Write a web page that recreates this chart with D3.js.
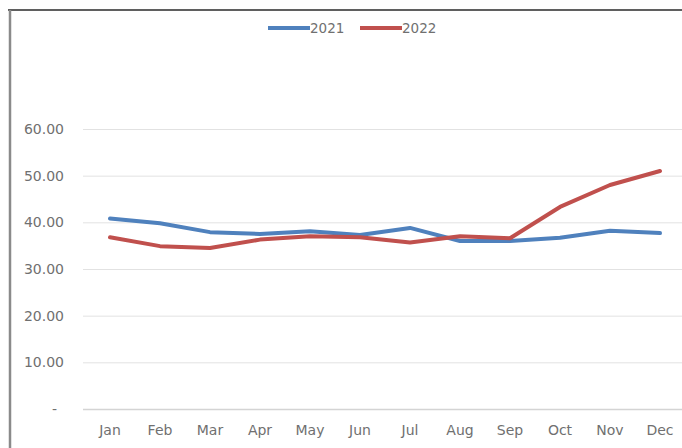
<!DOCTYPE html>
<html>
<head>
<meta charset="utf-8">
<script src="https://cdn.jsdelivr.net/npm/d3@7"></script>
<style>
  html, body { margin: 0; padding: 0; background: #fff; }
  svg { display: block; }
  text { font-family: "DejaVu Sans", sans-serif; fill: #707070; }
</style>
</head>
<body>
<svg id="chart" width="682" height="448"></svg>
<script>
// Monthly values for the two years
const months = ["Jan", "Feb", "Mar", "Apr", "May", "Jun", "Jul", "Aug", "Sep", "Oct", "Nov", "Dec"];
const series2021 = [40.8, 39.8, 37.9, 37.5, 38.1, 37.3, 38.8, 36.0, 36.0, 36.7, 38.2, 37.7];
const series2022 = [36.8, 34.9, 34.5, 36.3, 37.0, 36.8, 35.7, 37.0, 36.6, 43.3, 48.0, 51.0];
const yTicks = [0, 10, 20, 30, 40, 50, 60];
const seriesNames = ["2021", "2022"];
const seriesColors = ["#4f81bd", "#c0504d"];

const svg = d3.select("#chart");
const W = 682, H = 448;

// Frame around the chart
svg.append("line").attr("x1", 8).attr("x2", W).attr("y1", 10).attr("y2", 10)
  .attr("stroke", "#2a2a2a").attr("stroke-width", 1.5);
svg.append("line").attr("x1", 10).attr("x2", 10).attr("y1", 10).attr("y2", H)
  .attr("stroke", "#8a8a8a").attr("stroke-width", 2.5);

const x = d3.scaleBand().domain(months).range([85, 685]);
const y = d3.scaleLinear().domain([0, 60]).range([409, 129]);
const cx = m => x(m) + x.bandwidth() / 2;

// Horizontal gridlines
svg.append("g").selectAll("line").data(yTicks).join("line")
  .attr("x1", 83).attr("x2", W)
  .attr("y1", d => y(d) + 0.5).attr("y2", d => y(d) + 0.5)
  .attr("stroke", d => d === 0 ? "#d4d4d4" : "#e2e2e2")
  .attr("stroke-width", d => d === 0 ? 1.5 : 1);

// Y axis labels (zero shown as an accounting dash)
svg.append("g").selectAll("text").data(yTicks).join("text")
  .attr("x", d => d === 0 ? 57 : 64)
  .attr("y", d => y(d))
  .attr("dy", "0.36em")
  .attr("text-anchor", "end")
  .attr("font-size", 14)
  .text(d => d === 0 ? "-" : d3.format(".2f")(d));

// X axis labels
svg.append("g").selectAll("text").data(months).join("text")
  .attr("x", d => cx(d))
  .attr("y", 435)
  .attr("text-anchor", "middle")
  .attr("font-size", 14)
  .text(d => d);

// Lines
const line = d3.line()
  .x((d, i) => cx(months[i]))
  .y(d => y(d));

[series2021, series2022].forEach((s, k) => {
  svg.append("path")
    .datum(s)
    .attr("d", line)
    .attr("fill", "none")
    .attr("stroke", seriesColors[k])
    .attr("stroke-width", 4)
    .attr("stroke-linejoin", "round")
    .attr("stroke-linecap", "round");
});

// Legend
const legend = svg.append("g");
const legendX = [268, 360];
seriesNames.forEach((name, k) => {
  const g = legend.append("g").attr("transform", `translate(${legendX[k]},28)`);
  g.append("line").attr("x1", 0).attr("x2", 42).attr("y1", 0).attr("y2", 0)
    .attr("stroke", seriesColors[k]).attr("stroke-width", 4);
  g.append("text").attr("x", 42).attr("y", 0).attr("dy", "0.36em")
    .attr("font-size", 13.5).text(name);
});
</script>
</body>
</html>
